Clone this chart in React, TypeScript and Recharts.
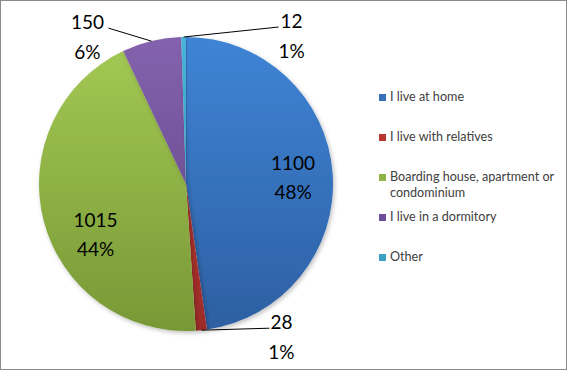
import { PieChart, Pie, Cell, Legend } from "recharts"

const categories = [
  "I live at home",
  "I live with relatives",
  "Boarding house, apartment or condominium",
  "I live in a dormitory",
  "Other",
]
const counts = [1100, 28, 1015, 150, 12]
const percentLabels = ["48%", "1%", "44%", "6%", "1%"]

const data = categories.map((name, i) => ({ name, value: counts[i] }))

// top / bottom shades of each slice (Excel style vertical gradient)
const palette = [
  ["#3f84d6", "#2d5fa2"],
  ["#c63e37", "#9c2c28"],
  ["#a4ca54", "#789836"],
  ["#8462ae", "#5c427f"],
  ["#48b4d8", "#2f8fb3"],
]
const legendSwatch = ["#3670bb", "#b93632", "#8fb446", "#6f4f99", "#3aa2c6"]

const RAD = Math.PI / 180
const FONT = "Lato, 'Open Sans', sans-serif"

function renderLabel(props: any) {
  const { cx, cy, midAngle, outerRadius, index } = props
  const pt = (r: number, a: number) => ({
    x: cx + r * Math.cos(-a * RAD),
    y: cy + r * Math.sin(-a * RAD),
  })
  const txt = (x: number, y: number, s: string) => (
    <text
      x={x}
      y={y}
      textAnchor="middle"
      dominantBaseline="central"
      fill="#000"
      fontSize={19}
      fontFamily={FONT}
    >
      {s}
    </text>
  )
  const value = String(counts[index])
  const pct = percentLabels[index]

  if (index === 0 || index === 2) {
    const p = index === 0 ? pt(outerRadius * 0.73, midAngle) : pt(outerRadius * 0.7, midAngle + 14)
    return (
      <g key={`lbl-${index}`}>
        {txt(p.x, p.y - 14, value)}
        {txt(p.x, p.y + 15, pct)}
      </g>
    )
  }

  const edge = pt(outerRadius, midAngle)
  let end = { x: edge.x, y: edge.y }
  let tx = 0
  if (index === 1) {
    end = { x: edge.x + 68, y: edge.y - 2 }
    tx = end.x + 12
  } else if (index === 3) {
    end = { x: edge.x - 43, y: edge.y - 13 }
    tx = end.x - 21
  } else {
    end = { x: edge.x + 95, y: edge.y - 10 }
    tx = end.x + 13
  }
  return (
    <g key={`lbl-${index}`}>
      <line x1={edge.x} y1={edge.y} x2={end.x} y2={end.y} stroke="#000" strokeWidth={1} />
      {txt(tx, end.y - 7, value)}
      {txt(tx, end.y + 23.5, pct)}
    </g>
  )
}

function LegendBox() {
  return (
    <div style={{ fontFamily: FONT, fontSize: 12.6, color: "#404040", width: 182 }}>
      {categories.map((c, i) => (
        <div key={c} style={{ height: 40, display: "flex", alignItems: "flex-start" }}>
          <span
            style={{
              width: 7,
              height: 7,
              marginTop: 5,
              marginRight: 4,
              flex: "none",
              background: legendSwatch[i],
            }}
          />
          <span style={{ lineHeight: "16px" }}>{c}</span>
        </div>
      ))}
    </div>
  )
}

export default function App() {
  return (
    <div style={{ position: "fixed", left: 0, top: 0, width: 568, height: 371, background: "#fff" }}>
      <div
        style={{
          position: "absolute",
          left: 0,
          top: 0,
          width: 567,
          height: 370,
          border: "1px solid #8a8a8a",
          boxSizing: "border-box",
          pointerEvents: "none",
        }}
      />
      <PieChart width={568} height={371} margin={{ top: 0, right: 0, bottom: 0, left: 0 }}>
        <defs>
          {palette.map(([a, b], i) => (
            <linearGradient key={i} id={`g${i}`} gradientUnits="userSpaceOnUse" x1="0" y1="37" x2="0" y2="331">
              <stop offset="0%" stopColor={a} />
              <stop offset="100%" stopColor={b} />
            </linearGradient>
          ))}
          <filter id="shadow" x="-10%" y="-10%" width="120%" height="120%">
            <feDropShadow dx="1.5" dy="2" stdDeviation="2" floodColor="#000" floodOpacity="0.25" />
          </filter>
        </defs>
        <Pie
          data={data}
          dataKey="value"
          nameKey="name"
          cx={186}
          cy={184}
          outerRadius={147}
          startAngle={90}
          endAngle={-270}
          stroke="none"
          label={renderLabel}
          labelLine={false}
          isAnimationActive={false}
          style={{ filter: "url(#shadow)" }}
        >
          {data.map((d, i) => (
            <Cell key={d.name} fill={`url(#g${i})`} />
          ))}
        </Pie>
        <Legend
          layout="vertical"
          align="right"
          verticalAlign="top"
          content={() => <LegendBox />}
          wrapperStyle={{ left: 379, top: 89, right: "auto", width: 185 }}
        />
      </PieChart>
    </div>
  )
}
